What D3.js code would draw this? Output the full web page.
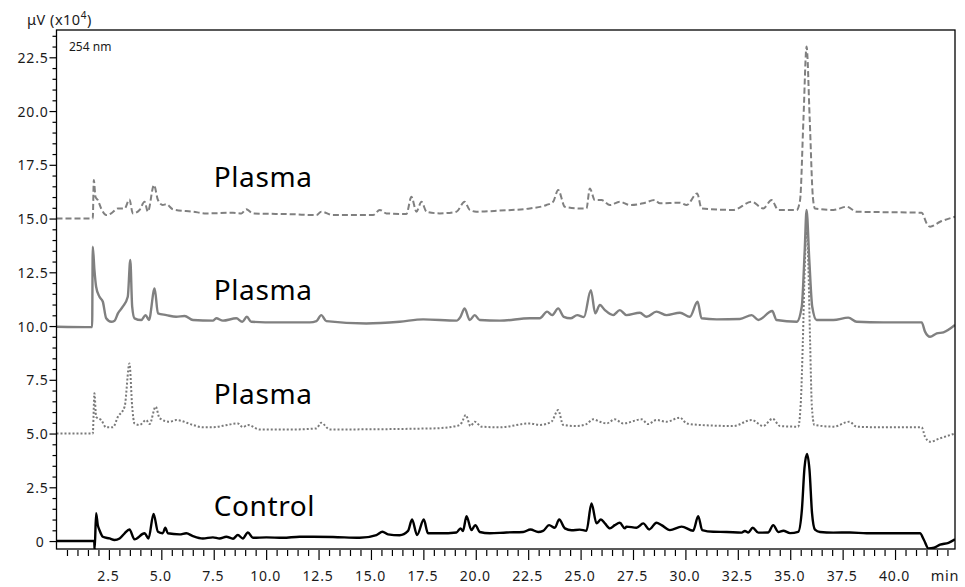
<!DOCTYPE html>
<html>
<head>
<meta charset="UTF-8">
<title>Chromatogram 254 nm</title>
<style>
  body { margin: 0; background: #fff; }
  .tick text { font-family: "Noto Sans", sans-serif; font-size: 14px; fill: #1a1a1a; letter-spacing: 0.8px; }
  .tick line { stroke: #000; stroke-width: 1.2px; }
  .trace { fill: none; stroke-linejoin: round; }
  .label { font-family: "Noto Sans", sans-serif; font-size: 28px; fill: #000; letter-spacing: 0.6px; }
</style>
</head>
<body>
<script src="https://cdnjs.cloudflare.com/ajax/libs/d3/7.8.5/d3.min.js"></script>
<script>
// retention time (min), signal (uV x10^4)
var control = [
  [0, 0], [1.80, 0], [1.82, -0.4], [1.89, 1.3], [1.97, 0.74], [2.05, 0.51], [2.21, 0.2], [2.53, 0.12],
  [2.77, 0.05], [3.01, 0.12], [3.25, 0.36], [3.48, 0.54], [3.72, 0.08], [4.20, 0.36], [4.39, 0.12],
  [4.63, 1.26], [4.84, 0.43], [5.07, 0.36], [5.19, 0.62], [5.31, 0.36], [5.87, 0.31], [6.19, 0.36],
  [6.51, 0.23], [6.98, 0.12], [7.46, 0.17], [7.78, 0.12], [8.10, 0.2], [8.42, 0.11], [8.65, 0.28],
  [8.89, 0.12], [9.13, 0.4], [9.37, 0.15], [10.01, 0.17], [10.8, 0.15], [11.6, 0.2], [12.24, 0.2],
  [13.19, 0.19], [14.46, 0.15], [15.26, 0.28], [15.55, 0.43], [15.81, 0.31], [16.37, 0.27], [16.77, 0.47],
  [16.96, 1.0], [17.2, 0.28], [17.52, 1.0], [17.72, 0.36], [18.28, 0.36], [19.08, 0.4], [19.27, 0.59],
  [19.39, 0.47], [19.56, 1.16], [19.79, 0.51], [19.98, 0.74], [20.19, 0.42], [20.67, 0.36], [21.46, 0.4],
  [22.26, 0.42], [22.61, 0.54], [22.98, 0.42], [23.21, 0.47], [23.5, 0.74], [23.77, 0.62], [23.98, 1.0],
  [24.25, 0.59], [24.57, 0.5], [24.96, 0.53], [25.28, 0.48], [25.52, 1.75], [25.76, 0.82], [25.97, 1.0],
  [26.16, 0.82], [26.40, 0.59], [26.63, 0.74], [26.87, 0.85], [27.11, 0.59], [27.19, 0.67], [27.67, 0.62],
  [27.99, 0.82], [28.27, 0.54], [28.62, 0.85], [28.86, 0.74], [29.26, 0.51], [29.82, 0.67], [30.37, 0.48],
  [30.61, 1.16], [30.8, 0.51], [31.33, 0.43], [31.97, 0.42], [32.68, 0.39], [32.84, 0.47], [33.0, 0.4],
  [33.21, 0.62], [33.48, 0.39], [33.95, 0.4], [34.19, 0.74], [34.43, 0.42], [34.67, 0.48], [34.99, 0.37],
  [35.38, 0.43], [35.56, 1.5], [35.68, 3.4], [35.8, 4.05], [35.92, 3.3], [36.04, 1.3], [36.18, 0.53],
  [36.42, 0.42], [37.05, 0.39], [37.85, 0.4], [38.65, 0.36], [39.6, 0.36], [41.19, 0.36], [41.38, 0.05],
  [41.59, -0.34], [41.86, -0.31], [42.15, -0.17], [42.55, -0.08], [42.86, 0.08]
];

var plasmaSolid = [
  [0, 9.97], [1.70, 9.95], [1.73, 13.69], [1.81, 12.6], [1.89, 11.83], [2.05, 11.36], [2.21, 11.13],
  [2.37, 10.36], [2.61, 10.2], [2.77, 10.25], [2.93, 10.59], [3.16, 10.9], [3.40, 11.36], [3.52, 13.07],
  [3.61, 10.9], [3.72, 10.36], [4.04, 10.28], [4.25, 10.51], [4.41, 10.28], [4.68, 11.75], [4.84, 10.59],
  [5.24, 10.51], [5.71, 10.43], [6.11, 10.47], [6.51, 10.28], [7.46, 10.25], [7.62, 10.36], [7.94, 10.25],
  [8.58, 10.36], [8.86, 10.2], [9.08, 10.43], [9.29, 10.2], [10.49, 10.17], [12.08, 10.17], [12.4, 10.23],
  [12.63, 10.51], [12.87, 10.23], [14.78, 10.12], [16.37, 10.2], [17.49, 10.31], [19.08, 10.25],
  [19.27, 10.43], [19.47, 10.82], [19.71, 10.28], [19.95, 10.51], [20.19, 10.28], [21.15, 10.25],
  [22.58, 10.36], [23.05, 10.36], [23.4, 10.67], [23.64, 10.51], [23.93, 10.82], [24.2, 10.43],
  [24.52, 10.36], [24.84, 10.51], [25.16, 10.42], [25.49, 11.67], [25.7, 10.59], [25.92, 10.98],
  [26.16, 10.74], [26.55, 10.51], [26.87, 10.74], [27.19, 10.51], [27.83, 10.62], [28.15, 10.43],
  [28.62, 10.67], [29.1, 10.51], [29.74, 10.62], [30.21, 10.43], [30.58, 11.13], [30.77, 10.36],
  [31.49, 10.31], [32.6, 10.33], [33.16, 10.51], [33.48, 10.28], [34.14, 10.7], [34.35, 10.28],
  [35.31, 10.2], [35.55, 10.9], [35.69, 13.5], [35.78, 15.4], [35.91, 13.07], [36.05, 10.9], [36.26, 10.28],
  [37.06, 10.28], [37.77, 10.39], [38.17, 10.2], [39.44, 10.17], [41.27, 10.17], [41.43, 9.74],
  [41.67, 9.5], [41.99, 9.66], [42.31, 9.71], [42.86, 10.05]
];

var plasmaDotted = [
  [0, 5.0], [1.73, 5.0], [1.81, 6.87], [1.89, 5.78], [2.13, 5.63], [2.37, 5.29], [2.69, 5.29], [2.93, 5.78],
  [3.25, 6.25], [3.48, 8.26], [3.61, 6.25], [3.72, 5.47], [3.96, 5.4], [4.28, 5.63], [4.44, 5.44],
  [4.73, 6.25], [4.92, 5.71], [5.39, 5.55], [5.71, 5.63], [6.51, 5.4], [6.98, 5.29], [7.46, 5.29],
  [7.94, 5.36], [8.65, 5.47], [8.89, 5.3], [9.13, 5.4], [9.69, 5.19], [11.28, 5.19], [12.4, 5.24],
  [12.63, 5.5], [13.03, 5.19], [17.96, 5.24], [19.08, 5.35], [19.32, 5.49], [19.52, 5.86], [19.75, 5.35],
  [19.95, 5.55], [20.27, 5.32], [21.15, 5.29], [22.58, 5.47], [23.05, 5.4], [23.61, 5.55], [23.93, 6.09],
  [24.17, 5.4], [24.81, 5.35], [25.28, 5.44], [25.6, 5.66], [25.92, 5.55], [26.24, 5.47], [26.63, 5.66],
  [27.03, 5.47], [27.91, 5.66], [28.22, 5.44], [28.62, 5.63], [29.1, 5.55], [29.74, 5.74], [30.06, 5.47],
  [30.69, 5.4], [32.28, 5.35], [33.16, 5.63], [33.71, 5.35], [34.16, 5.69], [34.51, 5.35], [35.38, 5.32],
  [35.51, 6.56], [35.6, 9.2], [35.7, 13.0], [35.78, 14.5], [35.86, 13.0], [35.95, 9.2], [36.03, 6.3],
  [36.15, 5.4], [37.06, 5.32], [37.82, 5.55], [38.17, 5.32], [39.44, 5.29], [41.27, 5.29], [41.43, 4.85],
  [41.67, 4.62], [42.15, 4.78], [42.86, 5.0]
];

var plasmaDashed = [
  [0, 15.0], [1.73, 15.0], [1.78, 16.79], [1.86, 16.01], [1.97, 15.86], [2.13, 15.47], [2.37, 15.16],
  [2.61, 15.24], [2.93, 15.47], [3.25, 15.47], [3.48, 15.89], [3.64, 15.24], [3.96, 15.4], [4.2, 15.78],
  [4.36, 15.32], [4.65, 16.56], [4.84, 15.86], [5.07, 15.63], [5.24, 15.67], [5.55, 15.43], [6.51, 15.32],
  [7.15, 15.24], [8.42, 15.27], [8.82, 15.24], [9.05, 15.43], [9.37, 15.24], [11.28, 15.2], [12.4, 15.16],
  [12.63, 15.32], [13.19, 15.16], [15.1, 15.16], [15.42, 15.4], [15.74, 15.24], [16.69, 15.21],
  [16.93, 16.01], [17.17, 15.32], [17.41, 15.78], [17.65, 15.32], [18.28, 15.24], [19.08, 15.32],
  [19.47, 15.78], [19.71, 15.4], [20.03, 15.32], [21.15, 15.37], [22.58, 15.47], [23.37, 15.63],
  [23.69, 15.78], [23.93, 16.33], [24.25, 15.55], [24.96, 15.47], [25.28, 15.47], [25.44, 16.4],
  [25.68, 15.86], [26.0, 15.86], [26.4, 15.63], [26.87, 15.78], [27.35, 15.63], [27.99, 15.71],
  [28.54, 15.86], [28.78, 15.71], [29.74, 15.74], [30.06, 15.63], [30.56, 16.17], [30.77, 15.47],
  [32.28, 15.4], [33.16, 15.78], [33.71, 15.47], [34.11, 15.86], [34.43, 15.4], [35.31, 15.4],
  [35.47, 15.86], [35.63, 19.6], [35.78, 23.0], [35.93, 19.6], [36.08, 16.0], [36.18, 15.47],
  [37.06, 15.4], [37.69, 15.55], [38.17, 15.32], [41.27, 15.27], [41.51, 14.77], [41.67, 14.62],
  [42.15, 14.85], [42.86, 15.08]
];

var xTickValues = [2.5, 5, 7.5, 10, 12.5, 15, 17.5, 20, 22.5, 25, 27.5, 30, 32.5, 35, 37.5, 40];
var yTickValues = [0, 2.5, 5, 7.5, 10, 12.5, 15, 17.5, 20, 22.5];
var yTickLabels = ["0", "2.5", "5.0", "7.5", "10.0", "12.5", "15.0", "17.5", "20.0", "22.5"];
var traceNames = ["Plasma", "Plasma", "Plasma", "Control"];

var W = 965, H = 587;
var m = {left: 56.5, top: 30, right: 955, bottom: 549};

var svg = d3.select("body").append("svg")
    .attr("width", W).attr("height", H)
    .style("font-family", "Noto Sans, sans-serif");

var x = d3.scaleLinear().domain([0, 42.86]).range([m.left, m.right]);
var y = d3.scaleLinear().domain([-0.37, 23.77]).range([m.bottom, m.top]);

svg.append("clipPath").attr("id", "plot")
  .append("rect")
    .attr("x", m.left).attr("y", m.top)
    .attr("width", m.right - m.left).attr("height", m.bottom - m.top);

// minor ticks every 0.5
var xMinor = d3.range(0.5, 42.8, 0.5).filter(function (d) { return xTickValues.indexOf(d) < 0; });
var yMinor = d3.range(0.5, 23.7, 0.5).filter(function (d) { return yTickValues.indexOf(d) < 0; });

svg.append("g")
    .attr("transform", "translate(0," + (m.bottom + 1) + ")")
    .call(d3.axisBottom(x).tickValues(xMinor).tickSize(6).tickFormat(""))
    .call(function (g) { g.select(".domain").remove(); });

svg.append("g")
    .attr("transform", "translate(0," + (m.bottom + 1) + ")")
    .call(d3.axisBottom(x).tickValues(xTickValues).tickSize(10).tickFormat(d3.format(".1f")))
    .call(function (g) {
      g.select(".domain").remove();
      g.selectAll("text").attr("y", 31).attr("dy", 0).attr("dx", -1);
    });

svg.append("g")
    .attr("transform", "translate(" + m.left + ",0)")
    .call(d3.axisLeft(y).tickValues(yMinor).tickSize(4).tickFormat(""))
    .call(function (g) { g.select(".domain").remove(); });

svg.append("g")
    .attr("transform", "translate(" + m.left + ",0)")
    .call(d3.axisLeft(y).tickValues(yTickValues).tickSize(7)
      .tickFormat(function (d, i) { return yTickLabels[i]; }))
    .call(function (g) {
      g.select(".domain").remove();
      g.selectAll("text").attr("x", -8).attr("dy", "0.36em");
      g.selectAll(".tick").filter(function (d) { return d === 0; }).select("text").attr("x", -12);
    });

var line = d3.line()
    .x(function (d) { return x(d[0]); })
    .y(function (d) { return y(d[1]); })
    .curve(d3.curveMonotoneX);

var traces = svg.append("g").attr("clip-path", "url(#plot)");

traces.append("path").datum(plasmaDashed).attr("class", "trace")
    .attr("d", line).attr("stroke", "#808080").attr("stroke-width", 2)
    .attr("stroke-dasharray", "6,3");

traces.append("path").datum(plasmaDotted).attr("class", "trace")
    .attr("d", line).attr("stroke", "#7a7a7a").attr("stroke-width", 2)
    .attr("stroke-dasharray", "2,2");

traces.append("path").datum(plasmaSolid).attr("class", "trace")
    .attr("d", line).attr("stroke", "#808080").attr("stroke-width", 2.4);

traces.append("path").datum(control).attr("class", "trace")
    .attr("d", line).attr("stroke", "#000").attr("stroke-width", 2.4);

// frame
svg.append("rect")
    .attr("x", m.left).attr("y", m.top)
    .attr("width", m.right - m.left).attr("height", m.bottom - m.top)
    .attr("fill", "none").attr("stroke", "#000").attr("stroke-width", 1.3);

// trace labels, anchored in data space
var labelAt = [16.47, 11.2, 6.37, 1.16];
svg.selectAll(".label").data(traceNames).enter().append("text")
    .attr("class", "label")
    .attr("x", x(7.5))
    .attr("y", function (d, i) { return y(labelAt[i]); })
    .text(function (d) { return d; });

svg.append("text")
    .attr("x", 69).attr("y", 51)
    .style("font-size", "12px").style("fill", "#1a1a1a")
    .text("254 nm");

var yt = svg.append("text")
    .attr("x", 27).attr("y", 25)
    .style("font-size", "14.5px").style("fill", "#1a1a1a").style("letter-spacing", "0.5px");
yt.append("tspan").text("\u03bcV (x10");
yt.append("tspan").attr("dy", -6).style("font-size", "10px").text("4");
yt.append("tspan").attr("dy", 6).text(")");

svg.append("text")
    .attr("x", 945).attr("y", 581).attr("text-anchor", "middle")
    .style("font-size", "14.5px").style("fill", "#1a1a1a").style("letter-spacing", "0.8px")
    .text("min");
</script>
</body>
</html>
